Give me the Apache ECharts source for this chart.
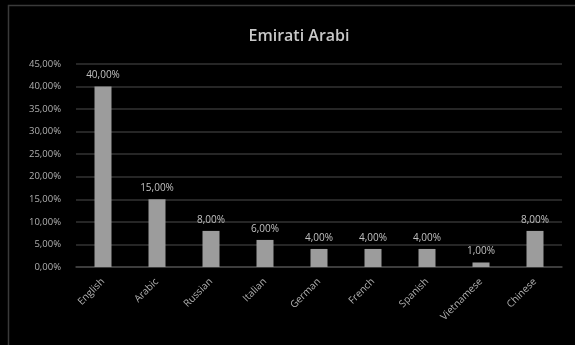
<!DOCTYPE html>
<html><head><meta charset="utf-8">
<script src="https://cdn.jsdelivr.net/npm/echarts@6/dist/echarts.min.js"></script>
<style>html,body{margin:0;padding:0;background:#000;}#c{width:575px;height:345px;}</style>
</head><body><div id="c"></div>
<script>
const categories = ['English','Arabic','Russian','Italian','German','French','Spanish','Vietnamese','Chinese'];
const values = [40, 15, 8, 6, 4, 4, 4, 1, 8];
const yTicks = [0, 5, 10, 15, 20, 25, 30, 35, 40, 45];
const title = 'Emirati Arabi';
function pct(v){ return v.toFixed(2).replace('.', ',') + '%'; }
const F = 'Open Sans';
const chart = echarts.init(document.getElementById('c'), null, {renderer:'canvas'});
chart.setOption({
  backgroundColor: '#000',
  animation: false,
  textStyle: {fontFamily: F},
  title: {text: title, left: 294, top: 23, textAlign: 'center',
    textStyle: {color: '#c8c8c8', fontSize: 16, fontWeight: 600, fontFamily: F}},
  graphic: [{type: 'polyline', shape: {points: [[8.5, 345], [8.5, 5.5], [575, 5.5]]},
    style: {stroke: '#3a3a3a', lineWidth: 1.5, fill: null}}],
  grid: {left: 76, right: 13, top: 64, bottom: 78, containLabel: false},
  xAxis: {type: 'category', data: categories,
    axisLine: {lineStyle: {color: '#444', width: 1.5}}, axisTick: {show: false},
    axisLabel: {color: '#b0b0b0', fontSize: 10, rotate: 45, margin: 13, fontFamily: F}},
  yAxis: {type: 'value', min: yTicks[0], max: yTicks[yTicks.length-1], interval: 5,
    axisLine: {show: false}, axisTick: {show: false},
    splitLine: {lineStyle: {color: '#333', width: 1.5}},
    axisLabel: {color: '#b0b0b0', fontSize: 9.5, margin: 15, formatter: v => pct(v), fontFamily: F}},
  series: [{type: 'bar', data: values, barWidth: 17,
    itemStyle: {color: '#9c9c9c'},
    label: {show: true, position: 'top', distance: 6, color: '#c0c0c0', fontSize: 10,
      formatter: p => pct(p.value), fontFamily: F}}]
});
</script></body></html>
